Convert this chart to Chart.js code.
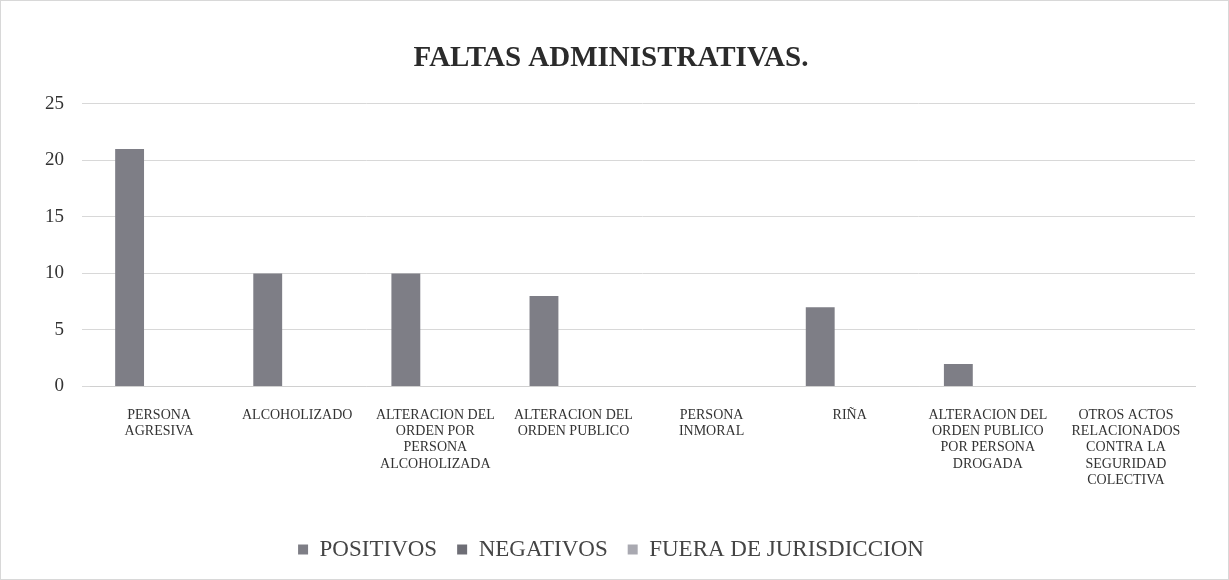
<!DOCTYPE html>
<html>
<head>
<meta charset="utf-8">
<script src="https://cdn.jsdelivr.net/npm/chart.js@4.4.1/dist/chart.umd.min.js"></script>
<style>
  html, body { margin: 0; padding: 0; background: #fff; }
  #caja { position: relative; width: 1229px; height: 580px; box-sizing: border-box; border: 1px solid #d8d8d8; }
</style>
</head>
<body>
<div id="caja"><canvas id="grafico_faltas"></canvas></div>
<script>
// categorias (etiquetas en varias lineas)
var categorias = [
  ['PERSONA', 'AGRESIVA'],
  ['ALCOHOLIZADO'],
  ['ALTERACION DEL', 'ORDEN POR', 'PERSONA', 'ALCOHOLIZADA'],
  ['ALTERACION DEL', 'ORDEN PUBLICO'],
  ['PERSONA', 'INMORAL'],
  ['RIÑA'],
  ['ALTERACION DEL', 'ORDEN PUBLICO', 'POR PERSONA', 'DROGADA'],
  ['OTROS ACTOS', 'RELACIONADOS', 'CONTRA LA', 'SEGURIDAD', 'COLECTIVA']
];

var positivos = [21, 10, 10, 8, 0, 7, 2, 0];
var negativos = [0, 0, 0, 0, 0, 0, 0, 0];
var fueraJurisdiccion = [0, 0, 0, 0, 0, 0, 0, 0];

var ticksY = [0, 5, 10, 15, 20, 25];

const fuenteSerif = "'Liberation Serif', 'DejaVu Serif', serif";

let dados = {
  labels: categorias,
  datasets: [{
    label: 'POSITIVOS',
    data: positivos,
    backgroundColor: '#7e7e86',
    categoryPercentage: 0.64,
    barPercentage: 0.98
  }, {
    label: 'NEGATIVOS',
    data: negativos,
    backgroundColor: '#6e6e76',
    categoryPercentage: 0.64,
    barPercentage: 0.98
  }, {
    label: 'FUERA DE JURISDICCION',
    data: fueraJurisdiccion,
    backgroundColor: '#a9a9b1',
    categoryPercentage: 0.64,
    barPercentage: 0.98
  }]
};

const config = {
  type: 'bar',
  data: dados,
  options: {
    responsive: true,
    maintainAspectRatio: false,
    animation: false,
    layout: { padding: { left: 26, right: 33, top: 10, bottom: 8 } },
    plugins: {
      title: {
        display: true,
        text: 'FALTAS ADMINISTRATIVAS.',
        color: '#2b2b2b',
        font: { family: fuenteSerif, size: 29, weight: 'bold' },
        padding: { top: 30, bottom: 28 }
      },
      legend: {
        position: 'bottom',
        labels: {
          color: '#444',
          font: { family: fuenteSerif, size: 23 },
          boxWidth: 10,
          boxHeight: 10,
          padding: 20
        }
      },
      tooltip: { enabled: false }
    },
    scales: {
      x: {
        grid: { display: false },
        border: { color: '#d0d0d0' },
        // espacio extra entre las etiquetas y la leyenda
        afterFit: function (eje) { eje.height += 17; },
        ticks: {
          autoSkip: false,
          maxRotation: 0,
          color: '#333',
          font: { family: fuenteSerif, size: 14, lineHeight: 1.15 },
          padding: 13
        }
      },
      y: {
        min: 0,
        max: 25,
        afterBuildTicks: function (eje) {
          eje.ticks = ticksY.map(function (v) { return { value: v }; });
        },
        grid: { color: '#d8d8d8' },
        border: { display: false },
        ticks: {
          color: '#333',
          font: { family: fuenteSerif, size: 19 },
          padding: 18
        }
      }
    }
  }
};

let chart_faltas = new Chart(document.getElementById('grafico_faltas'), config);
</script>
</body>
</html>
